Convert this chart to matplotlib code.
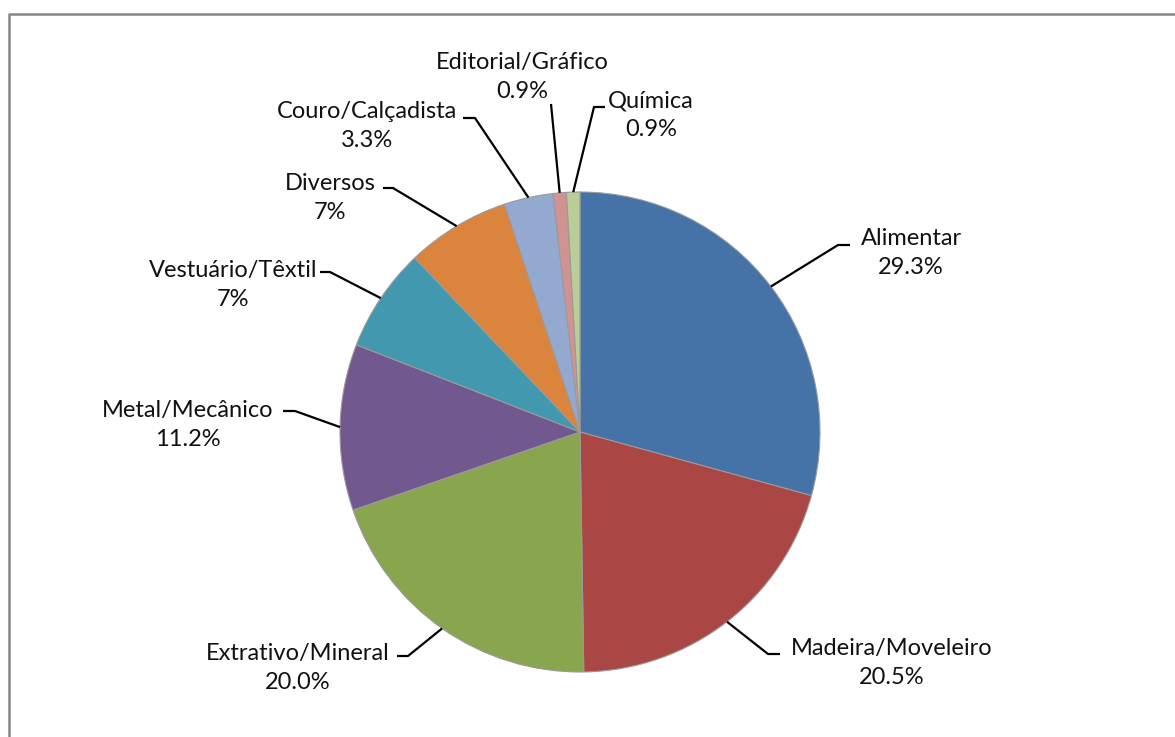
import matplotlib
matplotlib.use('Agg')
import matplotlib.pyplot as plt
import numpy as np

W, H = 1175, 737

labels = ['Alimentar', 'Madeira/Moveleiro', 'Extrativo/Mineral', 'Metal/Mecânico',
          'Vestuário/Têxtil', 'Diversos', 'Couro/Calçadista', 'Editorial/Gráfico', 'Química']
values = [29.3, 20.5, 20.0, 11.2, 7, 7, 3.3, 0.9, 0.9]
pct_text = ['29.3%', '20.5%', '20.0%', '11.2%', '7%', '7%', '3.3%', '0.9%', '0.9%']
colors = ['#4572A7', '#AA4643', '#89A54E', '#71588F', '#4198AF',
          '#DB843D', '#93A9CF', '#D19392', '#B9CD96']

# label layout in pixel coords (y down): text centre, elbow, stub end
text_pos = [(911, 253), (892, 663), (298, 668), (188, 425), (233, 285),
            (330, 198), (367, 126), (522, 77), (651, 115)]
elbows = [(838, 245), (768, 654), (408, 656), (295, 411), (330, 272),
          (393, 188), (475, 118), (551, 104), (594, 107)]
stubs = [(850, 245), (780, 654), (397, 656), (283, 411), (320, 272),
         (383, 188), (463, 118), (551, 104), (605, 107)]

cx, cy, R = 580, 432, 240

fig = plt.figure(figsize=(W / 100, H / 100), dpi=100)
ax = fig.add_axes([0, 0, 1, 1])

wedges, _ = ax.pie(values, colors=colors, startangle=90, counterclock=False,
                   center=(cx, H - cy), radius=R,
                   wedgeprops=dict(edgecolor='#9a9a9a', linewidth=0.8))
ax.set_xlim(0, W)
ax.set_ylim(0, H)
ax.axis('off')

for w, lab, pct, tp, el, st in zip(wedges, labels, pct_text, text_pos, elbows, stubs):
    ang = np.deg2rad((w.theta1 + w.theta2) / 2)
    px = cx + R * np.cos(ang)
    py = (H - cy) + R * np.sin(ang)
    ax.plot([px, el[0], st[0]], [py, H - el[1], H - st[1]],
            color='black', lw=1.6, solid_capstyle='butt', zorder=5)
    ax.text(tp[0], H - tp[1], lab + '\n' + pct, ha='center', va='center',
            multialignment='center', fontsize=17, family='Lato',
            linespacing=1.42, color='#111111')

# outer chart frame
ax.plot([9, 9, W + 5], [-5, H - 14, H - 14], color='#868686', lw=1.8,
        clip_on=False)

fig.savefig('out.png', dpi=100)
